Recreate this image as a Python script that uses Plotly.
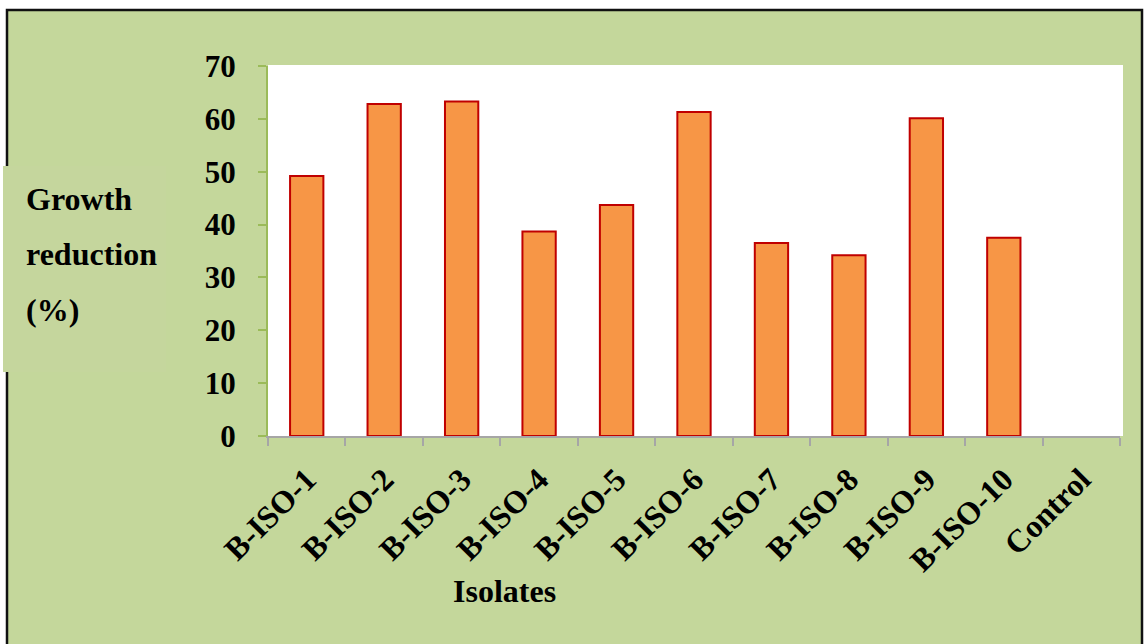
import plotly.graph_objects as go

# Growth reduction by isolate
isolates = ["B-ISO-1", "B-ISO-2", "B-ISO-3", "B-ISO-4", "B-ISO-5", "B-ISO-6",
            "B-ISO-7", "B-ISO-8", "B-ISO-9", "B-ISO-10", "Control"]
reduction = [49.2, 62.8, 63.3, 38.7, 43.7, 61.3, 36.5, 34.2, 60.1, 37.5, 0]
y_ticks = [0, 10, 20, 30, 40, 50, 60, 70]

W, H = 1144, 644
L, R, T, B = 268, 24, 66, 208
PW, PH = W - L - R, H - T - B

GREEN = "#c4d79b"
FONT = "Liberation Serif"


def px_x(px):
    return (px - L) / PW


def px_y(py):
    return (H - B - py) / PH


# no outline on zero-height bars
outline_w = [2 if v > 0 else 0 for v in reduction]

fig = go.Figure()
fig.add_trace(go.Bar(
    x=isolates, y=reduction, width=0.43,
    marker=dict(color="#f79646", line=dict(color="#c00000", width=outline_w)),
))

shapes = [
    # outer framed panel
    dict(type="rect", xref="paper", yref="paper", layer="below",
         x0=px_x(7), x1=px_x(1142), y0=px_y(660), y1=px_y(10),
         fillcolor=GREEN, line=dict(color="#111111", width=2.5)),
    # axis-title box on the left
    dict(type="rect", xref="paper", yref="paper", layer="below",
         x0=px_x(3), x1=px_x(166), y0=px_y(372), y1=px_y(166),
         fillcolor="#c5d69d", line=dict(width=0)),
    # white plotting area
    dict(type="rect", xref="paper", yref="paper", layer="below",
         x0=0, x1=px_x(1123), y0=0, y1=px_y(65),
         fillcolor="white", line=dict(width=0)),
]

annotations = []
for txt, py in [("Growth", 199), ("reduction", 254), ("(%)", 310)]:
    annotations.append(dict(
        text=txt, xref="paper", yref="paper", x=px_x(24), y=px_y(py),
        xanchor="left", yanchor="middle", showarrow=False,
        font=dict(family=FONT, size=32, color="black", weight="bold")))
annotations.append(dict(
    text="Isolates", xref="paper", yref="paper", x=px_x(504), y=px_y(591),
    xanchor="center", yanchor="middle", showarrow=False,
    font=dict(family=FONT, size=32, color="black", weight="bold")))

fig.update_layout(
    width=W, height=H,
    margin=dict(l=L, r=R, t=T, b=B, pad=0),
    paper_bgcolor="white", plot_bgcolor="rgba(0,0,0,0)",
    showlegend=False, bargap=0.57,
    shapes=shapes, annotations=annotations,
    font=dict(family=FONT, color="black"),
)
fig.update_xaxes(
    type="category", range=[-0.5, 10.5],
    showline=True, linecolor="#a6a6a6", linewidth=2,
    ticks="outside", tickson="boundaries", ticklen=8, tickwidth=2, tickcolor="#a6a6a6",
    tickangle=-45, ticklabelstandoff=10, showgrid=False, zeroline=False,
    tickfont=dict(family=FONT, size=32, color="black", weight="bold"),
)
fig.update_yaxes(
    range=[0, 70], tickvals=y_ticks,
    showline=True, linecolor="#9bbb59", linewidth=2,
    ticks="outside", ticklen=8, tickwidth=2, tickcolor="#9bbb59",
    ticklabelstandoff=16, showgrid=False, zeroline=False,
    tickfont=dict(family=FONT, size=31, color="black", weight="bold"),
)

fig.write_html("out.html")
